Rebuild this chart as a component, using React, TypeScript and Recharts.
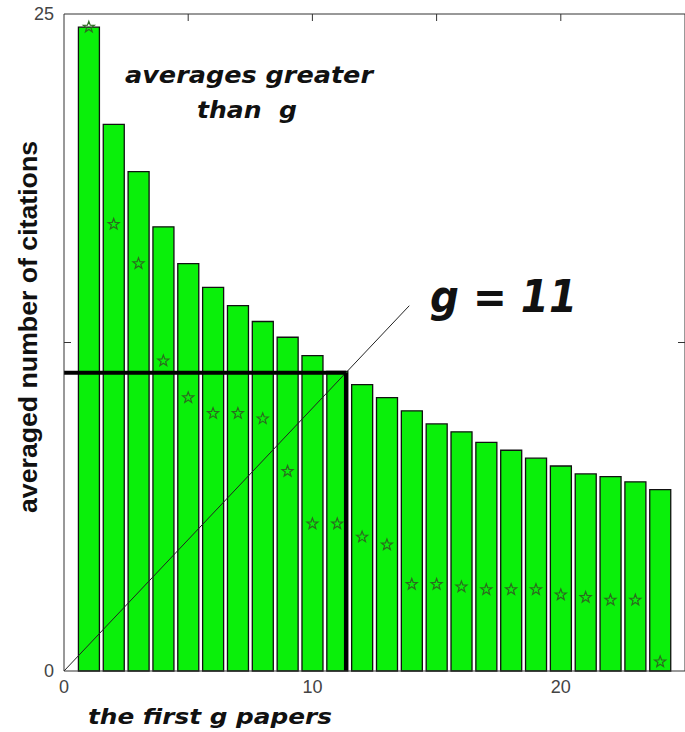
import React from 'react';
import { ComposedChart, Bar, Scatter, XAxis, YAxis, ReferenceLine } from 'recharts';

// paper rank (sorted by citations)
const papers = [1, 2, 3, 4, 5, 6, 7, 8, 9, 10, 11, 12, 13, 14, 15, 16, 17, 18, 19, 20, 21, 22, 23, 24];
// averaged number of citations of the first g papers (bars)
const averages = [24.5, 20.8, 19.0, 16.9, 15.5, 14.6, 13.9, 13.3, 12.7, 12.0, 11.4, 10.9, 10.4, 9.9, 9.4, 9.1, 8.7, 8.4, 8.1, 7.8, 7.5, 7.4, 7.2, 6.9];
// citations of each paper (stars)
const citations = [24.5, 17.0, 15.5, 11.8, 10.4, 9.8, 9.8, 9.6, 7.6, 5.6, 5.6, 5.1, 4.8, 3.3, 3.3, 3.2, 3.1, 3.1, 3.1, 2.9, 2.8, 2.7, 2.7, 0.35];

const xTicks = [0, 10, 20];
const yTicks = [0, 25];
const topTicks = [5, 10, 15, 20];
const sideTicks = [12.5];
const gLevel = 11.35;
const diagonalEnd = 13.9;

const data = papers.map((x, i) => ({ x, avg: averages[i], cite: citations[i] }));

const Star = (props: any) => {
  const { cx, cy } = props;
  if (cx == null || cy == null) return null;
  const pts: string[] = [];
  for (let i = 0; i < 10; i++) {
    const r = i % 2 === 0 ? 5.8 : 2.4;
    const a = -Math.PI / 2 + (i * Math.PI) / 5;
    pts.push(`${cx + r * Math.cos(a)},${cy + r * Math.sin(a)}`);
  }
  return <polygon points={pts.join(' ')} fill="none" stroke="#2b6a1f" strokeWidth={1.2} />;
};

// short inward tick marks at the top edge (vertical ref line) or both side edges (horizontal ref line)
const TopTick = (p: any) => {
  const top = Math.min(p.y1, p.y2);
  return <line x1={p.x1} x2={p.x1} y1={top} y2={top + 7} stroke="#333" strokeWidth={1} />;
};
const SideTick = (p: any) => {
  const l = Math.min(p.x1, p.x2);
  const r = Math.max(p.x1, p.x2);
  return (
    <g>
      <line x1={l} x2={l + 7} y1={p.y1} y2={p.y1} stroke="#333" strokeWidth={1} />
      <line x1={r - 7} x2={r} y1={p.y1} y2={p.y1} stroke="#333" strokeWidth={1} />
    </g>
  );
};

const tickStyle = { fill: '#444', fontSize: 18, fontFamily: 'Liberation Sans, Arial, sans-serif' };
const noteFont = { fontFamily: 'DejaVu Sans, Verdana, sans-serif', fontWeight: 'bold' as const, fontStyle: 'italic' as const, fill: '#111' };

export default function App() {
  return (
    <div style={{ position: 'absolute', left: 0, top: 0, width: 685, height: 732, background: '#fff' }}>
      <ComposedChart width={685} height={732} data={data} margin={{ top: 14, right: 0, bottom: 31, left: 34 }}>
        <XAxis
          dataKey="x"
          type="number"
          domain={[0, 25]}
          ticks={xTicks}
          height={30}
          tickLine={false}
          tickMargin={3}
          tick={tickStyle}
          axisLine={{ stroke: '#333' }}
        />
        <XAxis
          xAxisId="top"
          orientation="top"
          type="number"
          domain={[0, 25]}
          height={1}
          mirror
          tick={false}
          tickLine={false}
          axisLine={{ stroke: '#333' }}
        />
        <YAxis
          type="number"
          domain={[0, 25]}
          ticks={yTicks}
          width={30}
          tickLine={false}
          tickSize={0}
          tickMargin={10}
          tick={tickStyle}
          axisLine={{ stroke: '#333' }}
        />
        <YAxis
          yAxisId="right"
          orientation="right"
          type="number"
          domain={[0, 25]}
          width={1}
          mirror
          tick={false}
          tickLine={false}
          axisLine={{ stroke: '#333' }}
        />
        <Bar dataKey="avg" barSize={21} fill="#0af00a" stroke="#111" strokeWidth={1.3} isAnimationActive={false} />
        {topTicks.map((t) => (
          <ReferenceLine key={`t${t}`} x={t} shape={<TopTick />} />
        ))}
        {sideTicks.map((t) => (
          <ReferenceLine key={`s${t}`} y={t} shape={<SideTick />} />
        ))}
        <ReferenceLine
          segment={[{ x: 0, y: 0 }, { x: diagonalEnd, y: diagonalEnd }]}
          stroke="#222"
          strokeWidth={1}
        />
        <ReferenceLine
          segment={[{ x: 0, y: gLevel }, { x: gLevel, y: gLevel }]}
          stroke="#000"
          strokeWidth={4}
        />
        <ReferenceLine
          segment={[{ x: gLevel, y: 0 }, { x: gLevel, y: gLevel }]}
          stroke="#000"
          strokeWidth={4}
        />
        <Scatter dataKey="cite" shape={<Star />} isAnimationActive={false} />
      </ComposedChart>
      <svg width={685} height={732} style={{ position: 'absolute', left: 0, top: 0, pointerEvents: 'none' }}>
        <text x={125} y={83} fontSize={23} textLength={248} lengthAdjust="spacingAndGlyphs" {...noteFont}>
          averages greater
        </text>
        <text x={197} y={118} fontSize={23} textLength={100} lengthAdjust="spacingAndGlyphs" style={{ whiteSpace: 'pre' }} {...noteFont}>
          {'than  g'}
        </text>
        <text x={430} y={312} fontSize={44} textLength={147} lengthAdjust="spacingAndGlyphs" {...noteFont}>
          g = 11
        </text>
        <text x={88} y={724} fontSize={22} textLength={244} lengthAdjust="spacingAndGlyphs" {...noteFont}>
          the first g papers
        </text>
        <text
          x={0}
          y={0}
          transform="translate(37,327) rotate(-90)"
          textAnchor="middle"
          fontSize={26}
          textLength={372}
          lengthAdjust="spacingAndGlyphs"
          fontFamily="Liberation Sans, Arial, sans-serif"
          fontWeight="bold"
          fill="#111"
        >
          averaged number of citations
        </text>
      </svg>
    </div>
  );
}
